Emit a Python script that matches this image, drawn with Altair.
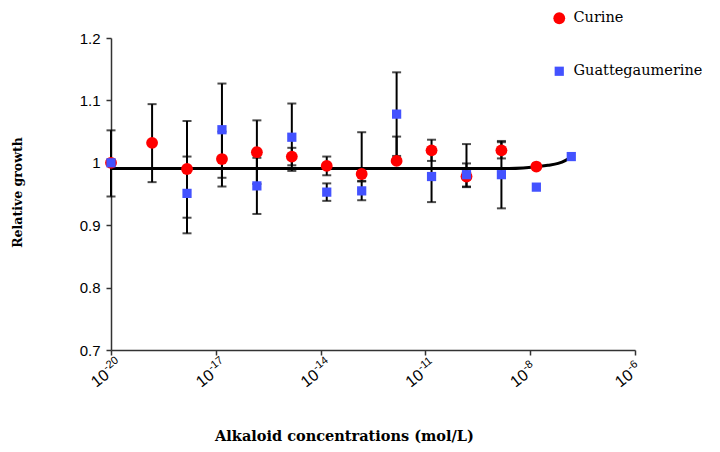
import altair as alt
import pandas as pd

# ---- data ----
conc = [1e-20, 1.5e-19, 1.5e-18, 1.5e-17, 1.5e-16, 1.5e-15, 1.5e-14,
        1.5e-13, 1.5e-12, 1.5e-11, 1.5e-10, 1.5e-9, 1.5e-8, 1.5e-7]

curine_idx = [0, 1, 2, 3, 4, 5, 6, 7, 8, 9, 10, 11, 12]
curine_val = [1.000, 1.032, 0.990, 1.006, 1.017, 1.010, 0.995, 0.982, 1.003, 1.020, 0.978, 1.020, 0.994]
curine_lo = [0.946, 0.969, 0.912, 0.962, 0.966, 0.996, 0.980, 0.971, 1.003, 1.003, 0.961, 1.007, None]
curine_hi = [1.052, 1.094, 1.067, 1.050, 1.068, 1.024, 1.010, 1.049, 1.042, 1.037, 0.999, 1.033, None]

guatt_idx = [0, 2, 3, 4, 5, 6, 7, 8, 9, 10, 11, 12, 13]
guatt_val = [1.000, 0.951, 1.053, 0.963, 1.041, 0.953, 0.955, 1.078, 0.978, 0.981, 0.981, 0.961, 1.010]
guatt_lo = [None, 0.887, 0.976, 0.918, 0.987, 0.939, 0.940, 1.011, 0.937, 0.962, 0.927, None, None]
guatt_hi = [None, 1.010, 1.127, 1.008, 1.095, 0.967, 0.970, 1.145, 1.019, 1.030, 1.035, None, None]

fit_conc = [1e-20, 2.5e-9, 6.3e-9, 1.4e-8, 3.2e-8, 6.3e-8, 1.0e-7, 1.35e-7]
fit_val = [0.991, 0.991, 0.9918, 0.9935, 0.996, 0.999, 1.0035, 1.008]

series_names = ["Curine", "Guattegaumerine"]
series_colors = ["#FF0000", "#4352FF"]
series_shapes = ["circle", "square"]

x_ticks = [1e-20, 1e-17, 1e-14, 1e-11, 1e-8, 1e-5]
x_label_base = ["10", "10", "10", "10", "10", "10"]
x_label_exp = ["-20", "-17", "-14", "-11", "-8", "-6"]
y_ticks = [0.7, 0.8, 0.9, 1.0, 1.1, 1.2]

# ---- tables ----
rows = []
for name, idx, val, lo, hi in [
    (series_names[0], curine_idx, curine_val, curine_lo, curine_hi),
    (series_names[1], guatt_idx, guatt_val, guatt_lo, guatt_hi),
]:
    for i, v, l, h in zip(idx, val, lo, hi):
        rows.append({"series": name, "conc": conc[i], "value": v, "lo": l, "hi": h})
pts = pd.DataFrame(rows)
err = pts.dropna(subset=["lo", "hi"]).copy()
fit = pd.DataFrame({"conc": fit_conc, "value": fit_val})
lbl = pd.DataFrame({"conc": x_ticks, "value": [y_ticks[0]] * len(x_ticks),
                    "base": x_label_base, "exp": x_label_exp})

xscale = alt.Scale(type="log", domain=[x_ticks[0], x_ticks[-1]], nice=False)
yscale = alt.Scale(domain=[y_ticks[0], y_ticks[-1]], nice=False, zero=False)

xaxis = alt.Axis(values=x_ticks, labels=False,
                 title="Alkaloid concentrations (mol/L)", titleX=233, titleY=86,
                 titleAlign="center", titleBaseline="middle", titleFontSize=14.5)
yaxis = alt.Axis(values=y_ticks, format=".1~f", title="Relative growth",
                 titleX=-94, titleY=154, titleAlign="center", titleBaseline="middle",
                 titleFontSize=12.5, labelFontSize=15, labelPadding=6)

X = alt.X("conc:Q", scale=xscale)
Y = alt.Y("value:Q", scale=yscale)

line = alt.Chart(fit).mark_line(color="black", strokeWidth=3, interpolate="monotone").encode(
    x=alt.X("conc:Q", scale=xscale, axis=xaxis),
    y=alt.Y("value:Q", scale=yscale, axis=yaxis),
)

rules = alt.Chart(err).mark_rule(color="black", strokeWidth=2).encode(
    x=X, y=alt.Y("lo:Q", scale=yscale), y2="hi:Q",
)

caps = alt.Chart(err).transform_fold(["lo", "hi"], as_=["end", "cap"]).mark_tick(
    color="black", thickness=2, size=9, orient="horizontal"
).encode(x=X, y=alt.Y("cap:Q", scale=yscale))

points = alt.Chart(pts).mark_point(filled=True, opacity=1).encode(
    x=X, y=Y,
    color=alt.Color("series:N", scale=alt.Scale(domain=series_names, range=series_colors),
                    legend=alt.Legend(title=None, orient="none", legendX=441, legendY=-27,
                                      rowPadding=38, labelOffset=7, padding=0,
                                      labelFont="DejaVu Serif", labelFontSize=14.5,
                                      symbolSize=120, labelColor="black")),
    shape=alt.Shape("series:N", scale=alt.Scale(domain=series_names, range=series_shapes)),
    size=alt.Size("series:N", scale=alt.Scale(domain=series_names, range=[140, 85]), legend=None),
)

# rotated tick labels: "10" with a smaller raised exponent
lbl_base = alt.Chart(lbl).mark_text(
    angle=322, align="left", baseline="alphabetic", dx=-35, dy=21,
    font="Liberation Sans", fontSize=16, color="black"
).encode(x=X, y=Y, text="base:N")
lbl_exp = alt.Chart(lbl).mark_text(
    angle=322, align="left", baseline="alphabetic", dx=-16.5, dy=14,
    font="Liberation Sans", fontSize=11, color="black"
).encode(x=X, y=Y, text="exp:N")

chart = alt.layer(line, rules, caps, points, lbl_base, lbl_exp).properties(
    width=524, height=312,
    autosize=alt.AutoSizeParams(type="none"),
    padding={"left": 103, "top": 30, "right": 77, "bottom": 102},
).configure_view(stroke=None).configure_axis(
    grid=False, domainColor="#333333", tickColor="#333333", domainWidth=1.5, tickWidth=1.5,
    tickSize=5, labelFont="Liberation Sans", labelColor="black",
    titleFont="DejaVu Serif", titleFontWeight="bold", titleColor="black",
)

chart.save("out.html", embed_options={"renderer": "svg", "actions": False})
